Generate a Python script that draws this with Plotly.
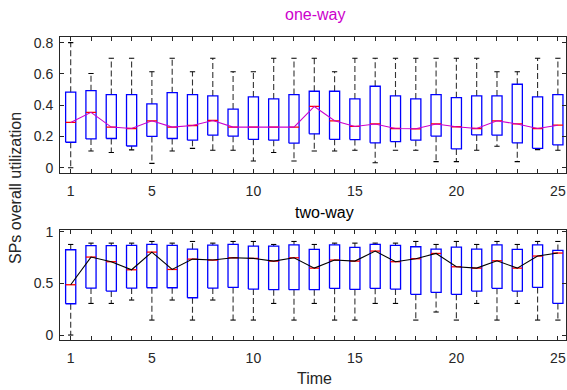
import plotly.graph_objects as go
from plotly.subplots import make_subplots

times = list(range(1, 26))

# one-way (top panel)
ow_upper = [0.80, 0.603, 0.70, 0.70, 0.614, 0.70, 0.614, 0.70, 0.614, 0.614, 0.70, 0.70, 0.70,
            0.614, 0.70, 0.70, 0.70, 0.70, 0.70, 0.70, 0.70, 0.614, 0.614, 0.70, 0.70]
ow_q3 = [0.483, 0.493, 0.468, 0.468, 0.408, 0.480, 0.468, 0.459, 0.375, 0.453, 0.440, 0.468, 0.489,
         0.489, 0.440, 0.521, 0.459, 0.440, 0.468, 0.448, 0.459, 0.459, 0.534, 0.453, 0.468]
ow_median = [0.290, 0.354, 0.260, 0.251, 0.300, 0.260, 0.270, 0.302, 0.260, 0.260, 0.260, 0.260, 0.392,
             0.300, 0.264, 0.280, 0.251, 0.249, 0.280, 0.262, 0.251, 0.300, 0.280, 0.251, 0.272]
ow_q1 = [0.163, 0.184, 0.187, 0.139, 0.200, 0.187, 0.176, 0.208, 0.202, 0.182, 0.176, 0.157, 0.217,
         0.182, 0.180, 0.159, 0.167, 0.176, 0.202, 0.120, 0.210, 0.208, 0.159, 0.124, 0.146]
ow_lower = [0.0, 0.107, 0.097, 0.114, 0.028, 0.107, 0.124, 0.112, 0.112, 0.043, 0.097, 0.043, 0.107,
            0.107, 0.112, 0.032, 0.112, 0.112, 0.039, 0.039, 0.112, 0.137, 0.039, 0.116, 0.112]

# two-way (bottom panel)
tw_upper = [0.877, 0.890, 0.890, 0.890, 0.906, 0.890, 0.906, 0.890, 0.906, 0.906, 0.877, 0.906, 0.877,
            0.890, 0.890, 0.890, 0.890, 0.906, 0.877, 0.906, 0.877, 0.906, 0.877, 0.906, 0.906]
tw_q3 = [0.826, 0.865, 0.865, 0.868, 0.877, 0.868, 0.832, 0.871, 0.877, 0.861, 0.861, 0.874, 0.829,
         0.874, 0.848, 0.877, 0.868, 0.855, 0.832, 0.852, 0.832, 0.874, 0.829, 0.874, 0.819]
tw_median = [0.487, 0.755, 0.710, 0.632, 0.803, 0.635, 0.735, 0.726, 0.748, 0.742, 0.716, 0.748, 0.648,
             0.726, 0.716, 0.813, 0.710, 0.739, 0.790, 0.661, 0.648, 0.719, 0.648, 0.765, 0.794]
tw_q1 = [0.303, 0.455, 0.426, 0.455, 0.458, 0.458, 0.361, 0.455, 0.461, 0.445, 0.439, 0.439, 0.439,
         0.452, 0.442, 0.452, 0.445, 0.394, 0.413, 0.394, 0.426, 0.452, 0.426, 0.461, 0.306]
tw_lower = [0.0, 0.306, 0.306, 0.339, 0.145, 0.339, 0.145, 0.339, 0.145, 0.145, 0.306, 0.145, 0.306,
            0.145, 0.145, 0.306, 0.306, 0.145, 0.223, 0.145, 0.306, 0.145, 0.306, 0.145, 0.145]

x_labels = {1: "1", 5: "5", 10: "10", 15: "15", 20: "20", 25: "25"}

BOX_HW = 0.25
CAP_HW = 0.13
BLUE = "#0000ff"
RED = "#ff0000"
TXT = "#262626"
MAGENTA = "#cc00cc"
FONT = "Liberation Sans, Arial, sans-serif"


def hsegs(xs, ys, hw):
    X, Y = [], []
    for x, y in zip(xs, ys):
        X += [x - hw, x + hw, None]
        Y += [y, y, None]
    return X, Y


def vsegs(xs, y0s, y1s):
    X, Y = [], []
    for x, a, b in zip(xs, y0s, y1s):
        X += [x, x, None]
        Y += [a, b, None]
    return X, Y


def rects(xs, lo, hi, hw):
    X, Y = [], []
    for x, a, b in zip(xs, lo, hi):
        X += [x - hw, x + hw, x + hw, x - hw, x - hw, None]
        Y += [a, a, b, b, a, None]
    return X, Y


fig = make_subplots(rows=2, cols=1, vertical_spacing=0.05)


def add_panel(row, upper, q3, med, q1, lower, line_color):
    wx, wy = vsegs(times, q3, upper)
    wx2, wy2 = vsegs(times, q1, lower)
    fig.add_trace(go.Scatter(x=wx + wx2, y=wy + wy2, mode="lines",
                             line=dict(color="#333333", width=1.1, dash="6px,3px"),
                             hoverinfo="skip", showlegend=False), row=row, col=1)
    cx, cy = hsegs(times + times, upper + lower, CAP_HW)
    fig.add_trace(go.Scatter(x=cx, y=cy, mode="lines",
                             line=dict(color="#000000", width=1.1),
                             hoverinfo="skip", showlegend=False), row=row, col=1)
    bx, by = rects(times, q1, q3, BOX_HW)
    fig.add_trace(go.Scatter(x=bx, y=by, mode="lines",
                             line=dict(color=BLUE, width=1.3),
                             hoverinfo="skip", showlegend=False), row=row, col=1)
    mx, my = hsegs(times, med, BOX_HW)
    fig.add_trace(go.Scatter(x=mx, y=my, mode="lines",
                             line=dict(color=RED, width=1.3),
                             hoverinfo="skip", showlegend=False), row=row, col=1)
    fig.add_trace(go.Scatter(x=times, y=med, mode="lines",
                             line=dict(color=line_color, width=1.1),
                             hoverinfo="skip", showlegend=False), row=row, col=1)


add_panel(1, ow_upper, ow_q3, ow_median, ow_q1, ow_lower, MAGENTA)
add_panel(2, tw_upper, tw_q3, tw_median, tw_q1, tw_lower, "#000000")

fig.update_xaxes(
    range=[0.473, 25.40], tickmode="array", tickvals=times,
    ticktext=[x_labels.get(t, "") for t in times],
    ticks="inside", ticklen=4, tickcolor=TXT, showline=True, linecolor=TXT,
    linewidth=1, mirror="ticks", showgrid=False, zeroline=False,
    tickfont=dict(family=FONT, size=14, color=TXT), ticklabelstandoff=5,
    domain=[0, 1],
)

fig.update_yaxes(ticks="inside", ticklen=4, tickcolor=TXT, showline=True, linecolor=TXT,
                 linewidth=1, mirror="ticks", showgrid=False, zeroline=False,
                 tickfont=dict(family=FONT, size=14, color=TXT), ticklabelstandoff=3)
fig.update_yaxes(row=1, col=1, range=[-0.032, 0.836], tickvals=[0, 0.2, 0.4, 0.6, 0.8],
                 ticktext=["0", "0.2", "0.4", "0.6", "0.8"], domain=[0.552, 1.0])
fig.update_yaxes(row=2, col=1, range=[-0.048, 1.017], tickvals=[0, 0.5, 1],
                 ticktext=["0", "0.5", "1"], domain=[0.0, 0.363])

# paper coords: plot area spans px x 60..566, y 37..340
def px_x(p):
    return (p - 60) / 506.0


def px_y(p):
    return (340 - p) / 303.0


fig.update_layout(
    width=567, height=390,
    margin=dict(l=60, r=1, t=37, b=50),
    paper_bgcolor="white", plot_bgcolor="white",
    font=dict(family=FONT, size=14, color=TXT),
    annotations=[
        dict(text="one-way", x=px_x(315), y=px_y(14), xref="paper", yref="paper",
             xanchor="center", yanchor="middle",
             showarrow=False, font=dict(family=FONT, size=16, color=MAGENTA)),
        dict(text="two-way", x=px_x(324), y=px_y(213), xref="paper", yref="paper",
             xanchor="center", yanchor="middle",
             showarrow=False, font=dict(family=FONT, size=16, color="#000000")),
        dict(text="Time", x=px_x(314), y=px_y(378), xref="paper", yref="paper",
             xanchor="center", yanchor="middle",
             showarrow=False, font=dict(family=FONT, size=16, color=TXT)),
        dict(text="SPs overall utilization", x=px_x(15), y=px_y(188), xref="paper", yref="paper",
             xanchor="center", yanchor="middle", textangle=-90,
             showarrow=False, font=dict(family=FONT, size=16, color=TXT)),
    ],
)

fig.write_html("out.html", config={"displayModeBar": False},
               post_script="document.body.style.margin='0';document.body.style.overflow='hidden';")
